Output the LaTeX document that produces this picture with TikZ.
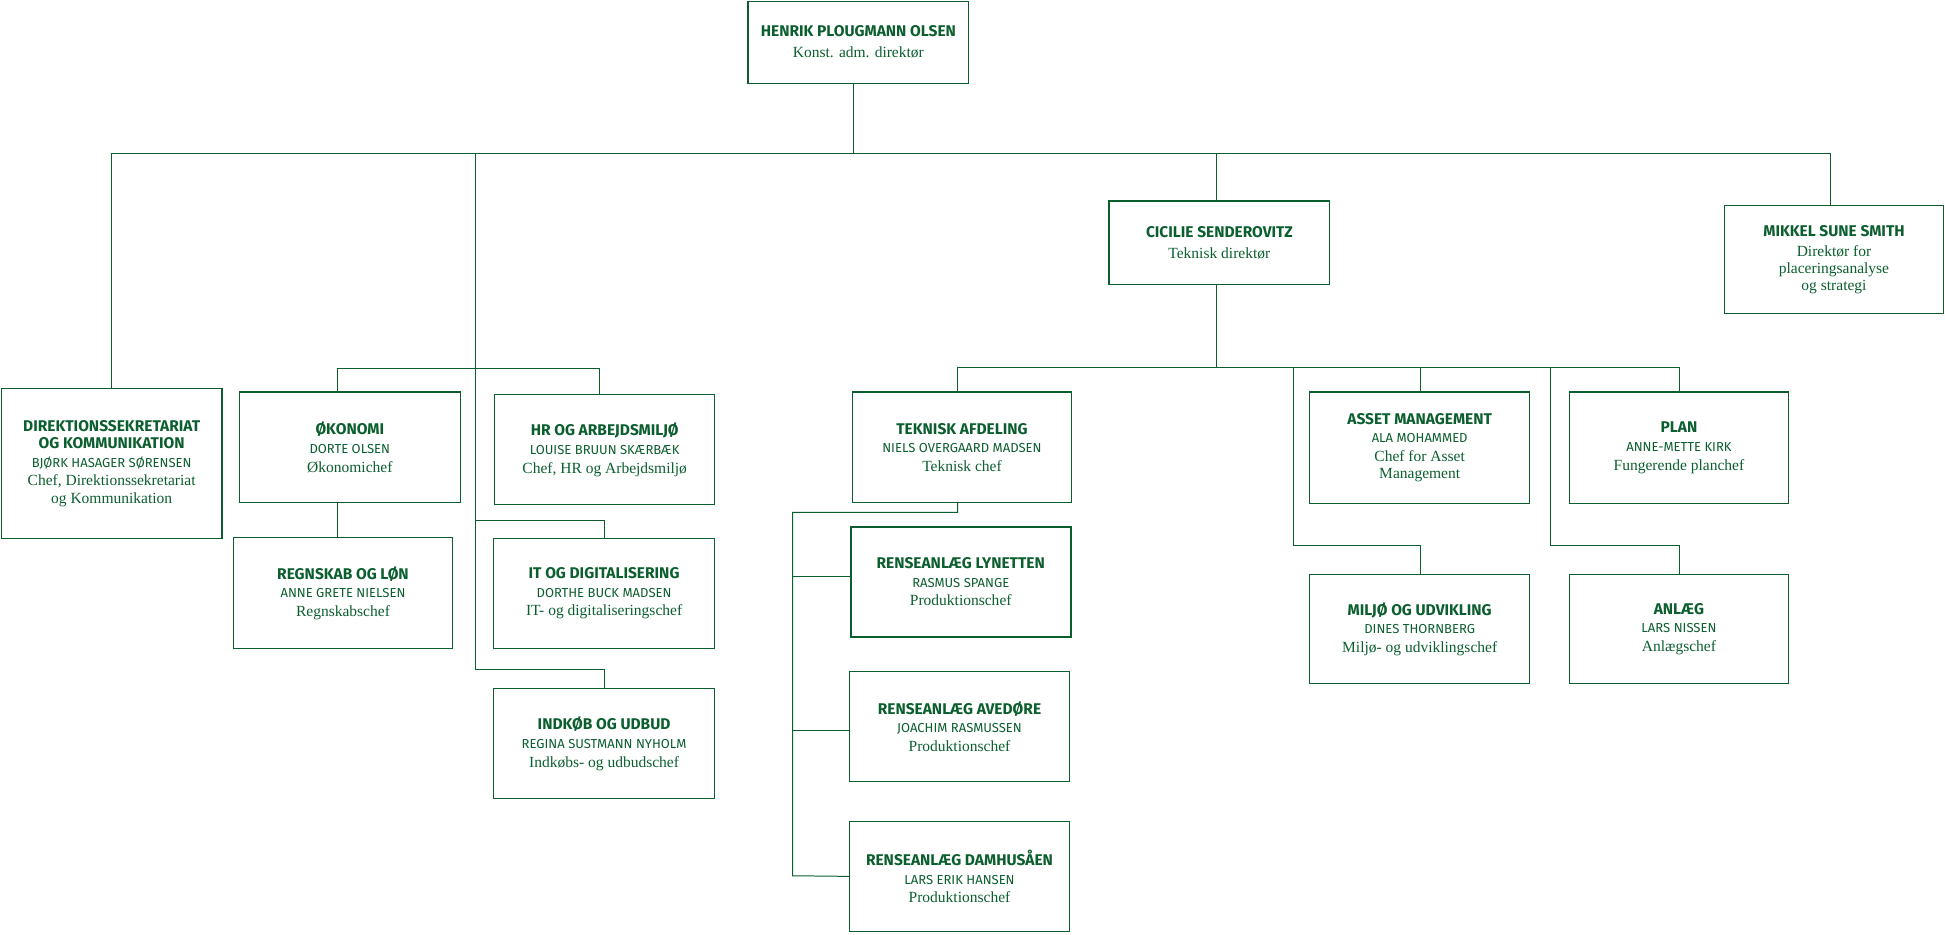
\documentclass[tikz,border=0pt]{standalone}
\usepackage{fontspec}
\setmainfont{Liberation Serif}
\newfontfamily\hd{Fira Sans}
\definecolor{dg}{HTML}{0B5E2E}
\begin{document}
\begin{tikzpicture}[x=1pt,y=-1pt,
  bx/.style={draw=dg,line width=0.9pt,inner sep=0pt,align=center,text=dg,font=\fontsize{12.5}{14}\selectfont},
  ln/.style={draw=dg,line width=0.8pt}]
\useasboundingbox (0,0) rectangle (1568,753);
\newcommand\ob[8]{%
  \node[bx,minimum width=#4pt,minimum height=#5pt] (#1) at (#2,#3)
   {{\hd\bfseries\fontsize{12.5}{14}\selectfont #6}\\[1pt]{\hd\fontsize{10.5}{12}\selectfont #7}\\[1pt]#8};}
\node[bx,minimum width=178pt,minimum height=66pt] (top) at (692,34)
  {{\hd\bfseries HENRIK PLOUGMANN OLSEN}\\[3pt]Konst. adm. direktør};
\node[bx,minimum width=178pt,minimum height=121pt] (dir) at (90,373.5)
  {{\hd\bfseries DIREKTIONSSEKRETARIAT}\\{\hd\bfseries OG KOMMUNIKATION}\\[1pt]{\hd\fontsize{10.5}{12}\selectfont BJØRK HASAGER SØRENSEN}\\[1pt]Chef, Direktionssekretariat\\og Kommunikation};
\ob{oko}{282}{360.5}{178}{89}{ØKONOMI}{DORTE OLSEN}{Økonomichef}
\ob{hr}{487.5}{362.5}{177}{89}{HR OG ARBEJDSMILJØ}{LOUISE BRUUN SKÆRBÆK}{Chef, HR og Arbejdsmiljø}
\ob{reg}{276.5}{478}{177}{90}{REGNSKAB OG LØN}{ANNE GRETE NIELSEN}{Regnskabschef}
\ob{it}{487}{478.5}{178}{89}{IT OG DIGITALISERING}{DORTHE BUCK MADSEN}{IT- og digitaliseringschef}
\ob{ind}{487}{599.5}{178}{89}{INDKØB OG UDBUD}{REGINA SUSTMANN NYHOLM}{Indkøbs- og udbudschef}
\node[bx,minimum width=178pt,minimum height=67pt] (cic) at (983,195.5)
  {{\hd\bfseries CICILIE SENDEROVITZ}\\[3pt]Teknisk direktør};
\node[bx,minimum width=177pt,minimum height=87pt] (mik) at (1478.5,209.5)
  {{\hd\bfseries MIKKEL SUNE SMITH}\\[2pt]Direktør for\\placeringsanalyse\\og strategi};
\ob{tek}{775.5}{360.5}{177}{89}{TEKNISK AFDELING}{NIELS OVERGAARD MADSEN}{Teknisk chef}
\node[bx,minimum width=177pt,minimum height=90pt] (asset) at (1144.5,361)
  {{\hd\bfseries ASSET MANAGEMENT}\\[1pt]{\hd\fontsize{10.5}{12}\selectfont ALA MOHAMMED}\\[1pt]Chef for Asset\\Management};
\ob{plan}{1353.5}{361}{177}{90}{PLAN}{ANNE-METTE KIRK}{Fungerende planchef}
\ob{lyn}{774.5}{469}{177}{88}{RENSEANLÆG LYNETTEN}{RASMUS SPANGE}{Produktionschef}
\draw[dg,line width=1.4pt] (lyn.south west) rectangle (lyn.north east);
\ob{ave}{773.5}{585.5}{177}{89}{RENSEANLÆG AVEDØRE}{JOACHIM RASMUSSEN}{Produktionschef}
\ob{dam}{773.5}{706.5}{177}{89}{RENSEANLÆG DAMHUSÅEN}{LARS ERIK HANSEN}{Produktionschef}
\ob{mil}{1144.5}{507}{177}{88}{MILJØ OG UDVIKLING}{DINES THORNBERG}{Miljø- og udviklingschef}
\ob{anl}{1353.5}{507}{177}{88}{ANLÆG}{LARS NISSEN}{Anlægschef}
% connectors
\coordinate (a) at (688,124);
\coordinate (sp) at (383,540);
\draw[ln] (top.south -| a) -- (a);
\draw[ln] (dir.north) |- (90,124) -- (1476,124) -- (mik.north -| 1476,0);
\draw[ln] (383,124) -- (sp);
\draw[ln] (981,124) -- (cic.north -| 981,0);
\draw[ln] (oko.north -| 272,0) |- (383,297) -| (hr.north -| 483,0);
\draw[ln] (oko.south -| 272,0) -- (reg.north -| 272,0);
\draw[ln] (383,420) -| (it.north);
\draw[ln] (sp) -| (it.north |- ind.north);
\draw[ln] (cic.south -| 981,0) -- (981,296);
\draw[ln] (tek.north -| 772,0) |- (1354,296) -- (plan.north -| 1354,0);
\draw[ln] (1145,296) -- (asset.north -| 1145,0);
\draw[ln] (1043,296) |- (1145,440) -- (mil.north -| 1145,0);
\draw[ln] (1250,296) |- (1354,440) -- (anl.north -| 1354,0);
\draw[ln] (tek.south -| 772,0) -- (772,413) -| (639,706) -- (dam.west);
\draw[ln] (639,465) -- (lyn.west |- 0,465);
\draw[ln] (639,589) -- (ave.west |- 0,589);
\end{tikzpicture}
\end{document}
